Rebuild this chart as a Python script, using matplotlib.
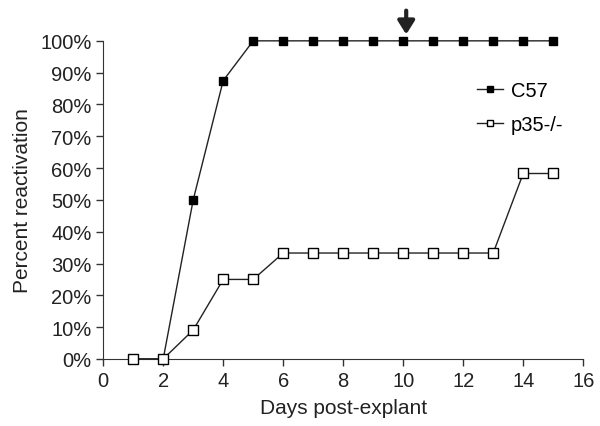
import matplotlib
matplotlib.use('Agg')
import matplotlib.pyplot as plt
from matplotlib.ticker import PercentFormatter

plt.rcParams['font.family'] = ['Liberation Sans', 'DejaVu Sans']

days_c57 = [1, 2, 3, 4, 5, 6, 7, 8, 9, 10, 11, 12, 13, 14, 15]
c57 = [0, 0, 50, 87.5, 100, 100, 100, 100, 100, 100, 100, 100, 100, 100, 100]
days_p35 = [1, 2, 3, 4, 5, 6, 7, 8, 9, 10, 11, 12, 13, 14, 15]
p35 = [0, 0, 9.1, 25, 25, 33.3, 33.3, 33.3, 33.3, 33.3, 33.3, 33.3, 33.3, 58.3, 58.3]

fig = plt.figure(figsize=(6, 4.27), dpi=100)
ax = fig.add_axes([0.172, 0.157, 0.8, 0.745])

ax.plot(days_c57, c57, '-s', color='#222222', lw=1, ms=5.5, clip_on=False,
        markerfacecolor='black', markeredgecolor='black', label='C57', zorder=2)
ax.plot(days_p35, p35, '-s', color='#222222', lw=1, ms=6.5, clip_on=False,
        markerfacecolor='white', markeredgecolor='black', label='p35-/-', zorder=3)

ax.set_xlim(0, 16)
ax.set_ylim(0, 100)
ax.set_xticks(range(0, 17, 2))
ax.set_yticks(range(0, 101, 10))
ax.yaxis.set_major_formatter(PercentFormatter(decimals=0))
ax.tick_params(labelsize=14.5, color='#333333', width=1, length=5, labelcolor='#222222')
for s in ['top', 'right']:
    ax.spines[s].set_visible(False)
for s in ['left', 'bottom']:
    ax.spines[s].set_color('#333333')
ax.set_xlabel('Days post-explant', fontsize=15, color='#222222', labelpad=6)
ax.set_ylabel('Percent reactivation', fontsize=15, color='#222222', labelpad=6)

ax.legend(loc='upper left', bbox_to_anchor=(0.74, 0.93), frameon=False,
          fontsize=14.5, handlelength=1.3, handletextpad=0.4, labelspacing=0.75,
          markerscale=0.75)

ax.annotate('', xy=(10.1, 102), xytext=(10.1, 109.5), annotation_clip=False,
            arrowprops=dict(arrowstyle='-|>,head_width=0.5,head_length=0.8',
                            lw=3, color='#222222', shrinkA=0, shrinkB=0))

fig.savefig('out.png', dpi=100)
